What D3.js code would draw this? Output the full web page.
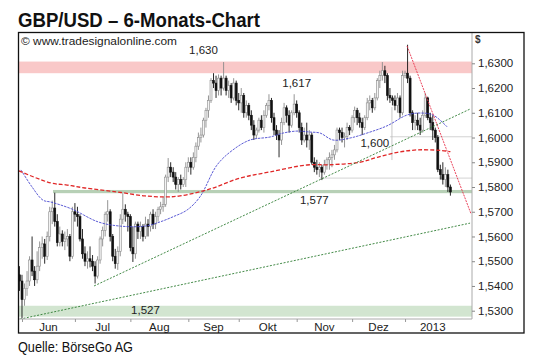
<!DOCTYPE html>
<html><head><meta charset="utf-8">
<script src="https://cdn.jsdelivr.net/npm/d3@7"></script>
<style>
html,body{margin:0;padding:0;background:#fff;}
text{font-family:"Liberation Sans",Arial,sans-serif;}
</style></head>
<body>
<svg id="c" width="540" height="360"></svg>
<script>
// ---- data (trading-day index; index 0 = 1 Jun 2012, first candle index -1) ----
const firstIndex = -1;
const opens = [
1.5445,1.5420,1.5345,1.5390,1.5420,1.5505,1.5460,1.5425,1.5480,1.5555,
1.5570,1.5520,1.5600,1.5700,1.5715,1.5660,1.5575,1.5610,1.5580,1.5590,
1.5600,1.5520,1.5700,1.5690,1.5680,1.5590,1.5530,1.5500,1.5510,1.5500,
1.5480,1.5440,1.5505,1.5590,1.5625,1.5690,1.5700,1.5600,1.5520,1.5490,
1.5540,1.5670,1.5710,1.5690,1.5680,1.5555,1.5530,1.5650,1.5620,1.5640,
1.5600,1.5650,1.5640,1.5690,1.5650,1.5680,1.5710,1.5720,1.5730,1.5840,
1.5880,1.5860,1.5840,1.5810,1.5830,1.5810,1.5830,1.5880,1.5900,1.5880,
1.5920,1.5965,1.6000,1.6010,1.6070,1.6110,1.6150,1.6230,1.6220,1.6190,
1.6240,1.6200,1.6240,1.6190,1.6210,1.6160,1.6220,1.6150,1.6140,1.6170,
1.6100,1.6130,1.6090,1.6050,1.6010,1.6030,1.6070,1.6040,1.6090,1.6130,
1.6150,1.6080,1.6030,1.6010,1.5990,1.6060,1.6120,1.6090,1.6050,1.6100,
1.6135,1.6100,1.6040,1.5990,1.6010,1.5990,1.6010,1.5900,1.5880,1.5870,
1.5880,1.5860,1.5890,1.5910,1.5920,1.5930,1.5950,1.6030,1.6020,1.6000,
1.6005,1.6040,1.6030,1.6080,1.6110,1.6080,1.6060,1.6040,1.6080,1.6140,
1.6150,1.6120,1.6160,1.6230,1.6250,1.6270,1.6250,1.6170,1.6160,1.6150,
1.6130,1.6160,1.6100,1.6250,1.6260,1.6240,1.6100,1.6060,1.6070,1.6050,
1.6030,1.6090,1.6160,1.6080,1.6060,1.6030,1.6000,1.5870,1.5850,1.5830,
1.5850,1.5800];
const highs = [
1.5480,1.5445,1.5410,1.5460,1.5520,1.5600,1.5480,1.5540,1.5580,1.5600,
1.5590,1.5620,1.5720,1.5745,1.5777,1.5690,1.5640,1.5625,1.5620,1.5630,
1.5610,1.5720,1.5735,1.5720,1.5690,1.5630,1.5560,1.5540,1.5560,1.5525,
1.5500,1.5520,1.5600,1.5640,1.5700,1.5747,1.5710,1.5610,1.5550,1.5560,
1.5690,1.5775,1.5730,1.5700,1.5690,1.5640,1.5660,1.5660,1.5660,1.5650,
1.5680,1.5670,1.5700,1.5710,1.5700,1.5720,1.5740,1.5760,1.5850,1.5917,
1.5900,1.5880,1.5860,1.5840,1.5850,1.5840,1.5900,1.5920,1.5920,1.5940,
1.5980,1.6020,1.6040,1.6080,1.6120,1.6170,1.6240,1.6260,1.6250,1.6255,
1.6250,1.6305,1.6250,1.6230,1.6220,1.6240,1.6230,1.6180,1.6200,1.6180,
1.6150,1.6140,1.6110,1.6070,1.6040,1.6080,1.6090,1.6110,1.6140,1.6175,
1.6160,1.6100,1.6050,1.6030,1.6080,1.6140,1.6130,1.6110,1.6110,1.6175,
1.6150,1.6110,1.6060,1.6040,1.6060,1.6030,1.6020,1.5920,1.5910,1.5900,
1.5890,1.5910,1.5920,1.5940,1.5950,1.5970,1.6040,1.6040,1.6040,1.6020,
1.6060,1.6050,1.6090,1.6125,1.6120,1.6100,1.6080,1.6090,1.6160,1.6170,
1.6160,1.6180,1.6240,1.6270,1.6305,1.6290,1.6260,1.6200,1.6170,1.6170,
1.6180,1.6170,1.6270,1.6270,1.6375,1.6250,1.6110,1.6090,1.6100,1.6080,
1.6110,1.6180,1.6165,1.6100,1.6090,1.6040,1.6010,1.5890,1.5900,1.5880,
1.5870,1.5810];
const lows = [
1.5380,1.5269,1.5320,1.5360,1.5400,1.5440,1.5400,1.5410,1.5460,1.5510,
1.5490,1.5505,1.5580,1.5650,1.5640,1.5560,1.5560,1.5560,1.5545,1.5560,
1.5500,1.5510,1.5660,1.5640,1.5580,1.5510,1.5480,1.5470,1.5475,1.5460,
1.5410,1.5430,1.5490,1.5560,1.5600,1.5660,1.5580,1.5500,1.5470,1.5465,
1.5520,1.5650,1.5660,1.5620,1.5540,1.5497,1.5510,1.5590,1.5590,1.5580,
1.5590,1.5600,1.5620,1.5630,1.5630,1.5660,1.5690,1.5700,1.5720,1.5820,
1.5840,1.5820,1.5790,1.5780,1.5790,1.5800,1.5800,1.5860,1.5850,1.5870,
1.5900,1.5950,1.5980,1.6000,1.6040,1.6080,1.6140,1.6200,1.6160,1.6170,
1.6170,1.6190,1.6170,1.6160,1.6140,1.6150,1.6130,1.6110,1.6100,1.6080,
1.6080,1.6070,1.6030,1.5990,1.5995,1.6020,1.6030,1.6020,1.6080,1.6110,
1.6060,1.6010,1.5990,1.5920,1.5970,1.6050,1.6060,1.6020,1.6040,1.6090,
1.6080,1.6020,1.5970,1.5980,1.5960,1.5950,1.5890,1.5860,1.5850,1.5840,
1.5828,1.5850,1.5870,1.5870,1.5880,1.5910,1.5940,1.5990,1.5980,1.5960,
1.5990,1.6010,1.6020,1.6060,1.6050,1.6040,1.6010,1.6030,1.6070,1.6110,
1.6100,1.6110,1.6150,1.6200,1.6230,1.6220,1.6150,1.6140,1.6130,1.6110,
1.6100,1.6080,1.6090,1.6240,1.6220,1.6085,1.6030,1.6030,1.6030,1.6010,
1.6020,1.6080,1.6070,1.6030,1.5990,1.5980,1.5860,1.5830,1.5810,1.5800,
1.5780,1.5765];
const closes = [
1.5420,1.5345,1.5390,1.5420,1.5505,1.5460,1.5425,1.5480,1.5555,1.5570,
1.5520,1.5600,1.5700,1.5715,1.5660,1.5575,1.5610,1.5580,1.5590,1.5600,
1.5520,1.5700,1.5690,1.5680,1.5590,1.5530,1.5500,1.5510,1.5500,1.5480,
1.5440,1.5505,1.5590,1.5625,1.5690,1.5700,1.5600,1.5520,1.5490,1.5540,
1.5670,1.5710,1.5690,1.5680,1.5555,1.5530,1.5650,1.5620,1.5640,1.5600,
1.5650,1.5640,1.5690,1.5650,1.5680,1.5710,1.5720,1.5730,1.5840,1.5880,
1.5860,1.5840,1.5810,1.5830,1.5810,1.5830,1.5880,1.5900,1.5880,1.5920,
1.5965,1.6000,1.6010,1.6070,1.6110,1.6150,1.6230,1.6220,1.6190,1.6240,
1.6200,1.6240,1.6190,1.6210,1.6160,1.6220,1.6150,1.6140,1.6170,1.6100,
1.6130,1.6090,1.6050,1.6010,1.6030,1.6070,1.6040,1.6090,1.6130,1.6150,
1.6080,1.6030,1.6010,1.5990,1.6060,1.6120,1.6090,1.6050,1.6100,1.6135,
1.6100,1.6040,1.5990,1.6010,1.5990,1.6010,1.5900,1.5880,1.5870,1.5880,
1.5860,1.5890,1.5910,1.5920,1.5930,1.5950,1.6030,1.6020,1.6000,1.6005,
1.6040,1.6030,1.6080,1.6110,1.6080,1.6060,1.6040,1.6080,1.6140,1.6150,
1.6120,1.6160,1.6230,1.6250,1.6270,1.6250,1.6170,1.6160,1.6150,1.6130,
1.6160,1.6100,1.6250,1.6260,1.6240,1.6100,1.6060,1.6070,1.6050,1.6030,
1.6090,1.6160,1.6080,1.6060,1.6030,1.6000,1.5870,1.5850,1.5830,1.5850,
1.5800,1.5780];

// moving averages: [index, value]
const maShort = [[-0.4,1.5869],[4,1.5800],[8.3,1.5747],[11.5,1.5739],[19.8,1.5711],[30.2,1.5659],[38.9,1.5642],[48.8,1.5642],
 [54.8,1.5659],[60,1.5680],[65.5,1.5707],[70.6,1.5760],[77.4,1.5889],[83.7,1.5950],[90.5,1.5990],[98.4,1.6002],
 [103.6,1.6018],[109.1,1.6026],[114.3,1.6022],[118.3,1.6018],[123.4,1.5990],[130.2,1.5998],[136.9,1.6018],
 [144.8,1.6047],[152.8,1.6091],[157.9,1.6099],[163.1,1.6091],[168.7,1.6043]];
const maLong = [[-1.2,1.5865],[11.5,1.5816],[17.9,1.5808],[25,1.5796],[37.7,1.5780],[48.8,1.5764],[56.7,1.5760],
 [62.7,1.5764],[74.6,1.5792],[86.5,1.5836],[98.4,1.5861],[113.1,1.5889],[122.2,1.5890],[134,1.5900],
 [141,1.5920],[149,1.5940],[157,1.5950],[166,1.5948],[170,1.5943]];

// drawn trend lines [index, value] pairs
const greenTrend1 = [[28.6,1.5400],[177.8,1.6115]];
const greenTrend2 = [[-0.8,1.5266],[177.8,1.5654]];
const redTrend = [[152.8,1.6370],[178.2,1.5691]];

// zones and levels
const pinkZone = [1.6260,1.6307];
const lowZone = [1.5276,1.5320];
const midZone = {from:12.3, lo:1.5775, hi:1.5788};
const supportLines = [{from:118.3, v:1.5836},{from:146,v:1.6003}];
const markerLine = {i:146.8, lo:1.5909, hi:1.6123};

const levelLabels = [{t:"1,630",i:72,v:1.6337},{t:"1,617",i:109,v:1.6205},{t:"1,600",i:140,v:1.5962},
                     {t:"1,577",i:116,v:1.5733},{t:"1,527",i:49,v:1.5285}];

const yTicks = [1.53,1.54,1.55,1.56,1.57,1.58,1.59,1.60,1.61,1.62,1.63];
const monthStarts = [0,21,43,66,86,109,131,152];
const monthLabels = ["Jun","Jul","Aug","Sep","Okt","Nov","Dez","2013"];
const monthEnds   = [21,43,66,86,109,131,152,174];

// ---- drawing ----
const svg = d3.select("#c");
const P = {l:19, r:472, t:33, b:319};
const x = d3.scaleLinear().domain([-1.19,178.57]).range([P.l,P.r]);
const y = d3.scaleLinear().domain([1.53,1.63]).range([310.7,63.3]);

// title
svg.append("text").attr("x",18).attr("y",27).attr("font-size",19.5).attr("font-weight","bold")
  .attr("textLength",242).attr("lengthAdjust","spacingAndGlyphs").attr("fill","#111")
  .text("GBP/USD – 6-Monats-Chart");
svg.append("text").attr("x",18).attr("y",352).attr("font-size",14.5).attr("fill","#111")
  .attr("textLength",115).attr("lengthAdjust","spacingAndGlyphs").text("Quelle: BörseGo AG");

const g = svg.append("g");
const clipId = "plotclip";
g.append("clipPath").attr("id",clipId).append("rect")
  .attr("x",P.l).attr("y",P.t).attr("width",P.r-P.l).attr("height",P.b-P.t);
const pg = g.append("g").attr("clip-path",`url(#${clipId})`);

// zones
pg.append("rect").attr("x",P.l).attr("width",P.r-P.l)
  .attr("y",y(pinkZone[1])).attr("height",y(pinkZone[0])-y(pinkZone[1])).attr("fill","#f9c8c8");
pg.append("rect").attr("x",P.l).attr("width",P.r-P.l)
  .attr("y",y(lowZone[1])).attr("height",y(lowZone[0])-y(lowZone[1])).attr("fill","#d2e5d0");
pg.append("rect").attr("x",x(midZone.from)).attr("width",P.r-x(midZone.from))
  .attr("y",y(midZone.hi)).attr("height",y(midZone.lo)-y(midZone.hi)).attr("fill","#b7d0b6");

// thin gray support lines
supportLines.forEach(s=>{
  pg.append("line").attr("x1",x(s.from)).attr("x2",P.r).attr("y1",y(s.v)).attr("y2",y(s.v))
    .attr("stroke","#c8c8c8").attr("stroke-width",0.8);
});
pg.append("line").attr("x1",x(markerLine.i)).attr("x2",x(markerLine.i))
  .attr("y1",y(markerLine.hi)).attr("y2",y(markerLine.lo)).attr("stroke","#b8b8b8").attr("stroke-width",0.8);

// level labels
levelLabels.forEach(d=>{
  g.append("text").attr("x",x(d.i)).attr("y",y(d.v)).attr("text-anchor","middle")
    .attr("font-size",11.5).attr("fill","#222").text(d.t);
});

// candles
const candles = opens.map((o,k)=>({i:firstIndex+k,o:o,h:highs[k],l:lows[k],c:closes[k]}));
const cg = pg.append("g");
candles.forEach(d=>{
  const up = d.c>=d.o;
  cg.append("line").attr("x1",x(d.i)).attr("x2",x(d.i)).attr("y1",y(d.h)).attr("y2",y(d.l))
    .attr("stroke",up?"#8a8a8a":"#111").attr("stroke-width",0.9);
  const top = y(Math.max(d.o,d.c)), bot = y(Math.min(d.o,d.c));
  cg.append("rect").attr("x",x(d.i)-1).attr("width",2)
    .attr("y",top).attr("height",Math.max(1,bot-top))
    .attr("fill",up?"#f4f4f4":"#111").attr("stroke",up?"#8a8a8a":"#111").attr("stroke-width",0.6);
});

// moving averages
const line = d3.line().x(d=>x(d[0])).y(d=>y(d[1])).curve(d3.curveCatmullRom);
pg.append("path").attr("d",line(maShort)).attr("fill","none").attr("stroke","#4a4ad0")
  .attr("stroke-width",0.9).attr("stroke-dasharray","2.5,1");
pg.append("path").attr("d",line(maLong)).attr("fill","none").attr("stroke","#e02828")
  .attr("stroke-width",1.3).attr("stroke-dasharray","4,2");

// trend lines
const straight = d3.line().x(d=>x(d[0])).y(d=>y(d[1]));
[greenTrend1,greenTrend2].forEach(t=>{
  pg.append("path").attr("d",straight(t)).attr("fill","none").attr("stroke","#2e7d32")
    .attr("stroke-width",0.9).attr("stroke-dasharray","2,1.5");
});
pg.append("path").attr("d",straight(redTrend)).attr("fill","none").attr("stroke","#e8304a")
  .attr("stroke-width",0.9).attr("stroke-dasharray","2,1");

// plot borders
g.append("line").attr("x1",P.r).attr("x2",P.r).attr("y1",P.t).attr("y2",P.b).attr("stroke","#aaa").attr("stroke-width",1);
g.append("line").attr("x1",P.l).attr("x2",P.r).attr("y1",P.b).attr("y2",P.b).attr("stroke","#aaa").attr("stroke-width",1);

// y axis
const yAxis = d3.axisRight(y).tickValues(yTicks).tickSize(3).tickPadding(3)
  .tickFormat(v=>d3.format(".4f")(v).replace(".",","));
const ya = g.append("g").attr("transform",`translate(${P.r},0)`).call(yAxis);
ya.select(".domain").remove();
ya.selectAll("line").attr("stroke","#888");
ya.selectAll("text").attr("font-size",11.5).attr("fill","#222").attr("font-family","Liberation Sans, Arial, sans-serif");
g.append("text").attr("x",475).attr("y",43).attr("font-size",10).attr("font-weight","bold").attr("fill","#333").text("$");

// x axis
const xAxis = d3.axisBottom(x).tickValues(monthStarts).tickSize(3).tickFormat("");
const xa = g.append("g").attr("transform",`translate(0,${P.b})`).call(xAxis);
xa.select(".domain").remove();
xa.selectAll("line").attr("stroke","#999");
monthLabels.forEach((m,k)=>{
  g.append("text").attr("x",x((monthStarts[k]+monthEnds[k])/2)).attr("y",331)
    .attr("text-anchor","middle").attr("font-size",11.5).attr("fill","#222").text(m);
});

// watermark
g.append("text").attr("x",21).attr("y",45).attr("font-size",11).attr("fill","#222")
  .attr("textLength",156).attr("lengthAdjust","spacingAndGlyphs")
  .text("© www.tradesignalonline.com");

// outer frame
svg.append("rect").attr("x",18.5).attr("y",32.5).attr("width",505.5).attr("height",300.5)
  .attr("fill","none").attr("stroke","#111").attr("stroke-width",1.3);
</script>
</body></html>
